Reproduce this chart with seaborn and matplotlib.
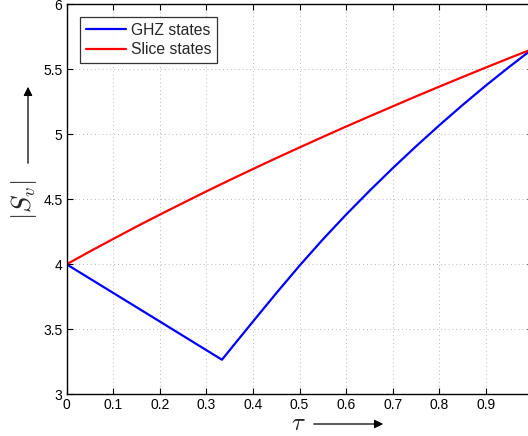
import pandas as pd
import matplotlib
matplotlib.use("Agg")
import matplotlib.pyplot as plt
import seaborn as sns

# =====================================
# Data
# =====================================

tau_ghz = [0.0, 0.1, 0.2, 0.3333, 0.4, 0.45, 0.5, 0.55, 0.6, 0.65,
           0.7, 0.75, 0.8, 0.85, 0.9, 0.95, 1.0]
s_ghz = [4.0, 3.78, 3.56, 3.266, 3.56, 3.778, 3.99, 4.192, 4.383, 4.565,
         4.74, 4.908, 5.07, 5.226, 5.376, 5.519, 5.657]

tau_slice = [0.0, 0.05, 0.1, 0.15, 0.2, 0.25, 0.3, 0.35, 0.4, 0.45, 0.5,
             0.55, 0.6, 0.65, 0.7, 0.75, 0.8, 0.85, 0.9, 0.95, 1.0]
s_slice = [4.0, 4.099, 4.195, 4.290, 4.382, 4.472, 4.561, 4.648, 4.733, 4.817, 4.899,
           4.980, 5.060, 5.138, 5.215, 5.292, 5.367, 5.441, 5.514, 5.586, 5.657]

series_names = ["GHZ states", "Slice states"]
x_ticks = [0, 0.1, 0.2, 0.3, 0.4, 0.5, 0.6, 0.7, 0.8, 0.9]
x_tick_labels = ["0", "0.1", "0.2", "0.3", "0.4", "0.5", "0.6", "0.7", "0.8", "0.9"]
y_ticks = [3, 3.5, 4, 4.5, 5, 5.5, 6]
y_tick_labels = ["3", "3.5", "4", "4.5", "5", "5.5", "6"]

df = pd.concat([
    pd.DataFrame({"tau": tau_ghz, "S": s_ghz, "state": series_names[0]}),
    pd.DataFrame({"tau": tau_slice, "S": s_slice, "state": series_names[1]}),
])

# =====================================
# Plot
# =====================================

sns.set_style("ticks")
plt.rcParams["font.family"] = ["Liberation Sans", "DejaVu Sans"]
plt.rcParams["mathtext.fontset"] = "cm"

fig = plt.figure(figsize=(5.28, 4.36), dpi=100)
ax = fig.add_axes([66.6 / 528, 41.7 / 436, 466 / 528, 390 / 436])

sns.lineplot(
    data=df, x="tau", y="S", hue="state",
    palette={"GHZ states": "#0000ff", "Slice states": "#ff0000"},
    linewidth=1.6, sort=False, estimator=None, ax=ax
)

ax.set_xlim(0, 1)
ax.set_ylim(3, 6)
ax.set_xticks(x_ticks)
ax.set_xticklabels(x_tick_labels)
ax.set_yticks(y_ticks)
ax.set_yticklabels(y_tick_labels)
ax.tick_params(direction="in", length=4, width=0.8, labelsize=10,
               top=True, right=True, pad=3, colors="black")
ax.grid(True, linestyle=(0, (1, 3)), color="#b8b8b8", linewidth=0.7)
for sp in ax.spines.values():
    sp.set_linewidth(1.0)
    sp.set_color("black")
ax.set_xlabel("")
ax.set_ylabel("")

handles, labels = ax.get_legend_handles_labels()
leg = ax.legend(handles, labels, loc="upper left", bbox_to_anchor=(0.029, 0.967),
                borderaxespad=0, fontsize=11.3, frameon=True, fancybox=False,
                edgecolor="black", handlelength=2.6, borderpad=0.35,
                labelspacing=0.3, handletextpad=0.3)
leg.get_frame().set_linewidth(0.9)

# axis labels with arrows
fig.text(298 / 528, 1 - 423 / 436, r"$\tau$", fontsize=18, ha="center", va="center")
fig.add_artist(matplotlib.patches.FancyArrowPatch(
    (311 / 528, 1 - 424 / 436), (386 / 528, 1 - 424 / 436),
    transform=fig.transFigure, arrowstyle="-|>", mutation_scale=13,
    color="black", linewidth=0.9))

fig.text(24 / 528, 1 - 200 / 436, r"$|S_v|$", fontsize=19, rotation=90,
         ha="center", va="center")
fig.add_artist(matplotlib.patches.FancyArrowPatch(
    (28 / 528, 1 - 166 / 436), (28 / 528, 1 - 84 / 436),
    transform=fig.transFigure, arrowstyle="-|>", mutation_scale=13,
    color="black", linewidth=0.9))

fig.savefig("out.png", dpi=100)
